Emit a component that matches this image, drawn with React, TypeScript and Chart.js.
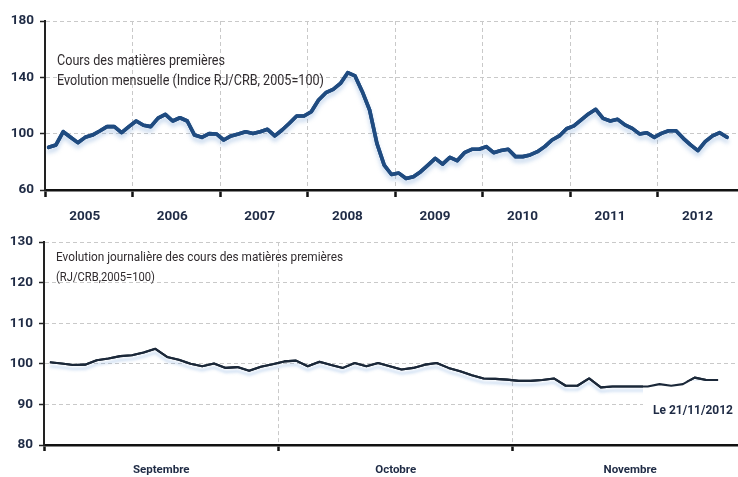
import React, { useEffect, useRef } from 'react';
import { Chart, registerables } from 'chart.js';

Chart.register(...registerables);

// ---------- data ----------
const YEAR_LABELS = ['2005', '2006', '2007', '2008', '2009', '2010', '2011', '2012'];

// RJ/CRB monthly index, Jan 2005 .. Oct 2012 (2005 = 100)
const MONTHLY_INDEX = [
  90.3, 92, 101.4, 97.5, 93.6, 97.4, 99, 101.9, 105, 105, 100.7, 105,
  109, 106, 105, 111, 113.7, 109, 111.3, 109, 99, 97.4, 100, 99.8,
  95.5, 98.4, 99.8, 101.4, 100.2, 101.4, 103.1, 98.4, 102.6, 107.4, 112.5, 112.5,
  115.6, 123.9, 129.1, 131.5, 135.7, 143.3, 141, 129.8, 116.8, 93.1, 77.7, 71,
  72, 68.2, 69.4, 73, 77.7, 82.5, 78.4, 83.2, 80.8, 86.5, 88.9, 88.9,
  90.8, 86.5, 88, 88.9, 83.7, 83.7, 84.9, 87.2, 90.8, 95.5, 98.4, 103.5,
  105.5, 109.8, 114, 117.3, 110.9, 109, 110.2, 106.2, 103.8, 99.8, 100.7, 97.4,
  100.2, 102.1, 102.1, 96.7, 92, 88, 94.3, 98.4, 100.7, 97.4,
];

const MONTH_LABELS = ['Septembre', 'Octobre', 'Novembre'];

// daily index, Sept 2012 .. 21/11/2012
const DAILY_INDEX = [
  100.4, 100.1, 99.7, 99.8, 100.9, 101.3, 101.9, 102.1, 102.8, 103.7,
  101.7, 101, 100, 99.4, 100.1, 99, 99.2, 98.3, 99.3, 99.9,
  100.6, 100.8, 99.4, 100.5, 99.7, 99, 100.2, 99.4, 100.2, 99.4,
  98.6, 99, 99.8, 100.2, 99, 98.2, 97.2, 96.4, 96.3,
  96.1, 95.8, 95.8, 96, 96.4, 94.6, 94.6, 96.4, 94.2, 94.4, 94.4,
  94.4, 94.4, 95, 94.6, 95, 96.6, 96, 96,
];

const TOP_Y_TICKS = [60, 100, 140, 180];
const BOTTOM_Y_TICKS = [80, 90, 100, 110, 120, 130];

const TOP_TITLE = ['Cours des matières premières', 'Evolution mensuelle (Indice RJ/CRB, 2005=100)'];
const BOTTOM_TITLE = ['Evolution journalière des cours des matières premières', '(RJ/CRB,2005=100)'];
const DATE_NOTE = 'Le 21/11/2012';

// ---------- styling ----------
const FONT = 'Roboto, "Liberation Sans", Arial, sans-serif';
const TICK_COLOR = '#1f2b45';
const GRID_COLOR = '#c9c9c9';
const TEXT_COLOR = '#302b2e';

// draws white note box (under the line), then the line with a soft shadow
const shadowPlugin = {
  id: 'lineShadow',
  beforeDatasetsDraw(chart: any, _args: any, opts: any) {
    const ctx = chart.ctx;
    const box = opts.box;
    if (box) {
      ctx.save();
      ctx.fillStyle = '#ffffff';
      ctx.fillRect(box.x, box.y, box.w, box.h);
      ctx.restore();
    }
    ctx.save();
    if (box) {
      ctx.beginPath();
      ctx.rect(0, 0, box.x, chart.height);
      ctx.rect(box.x, 0, chart.width - box.x, box.y);
      ctx.clip();
    }
    ctx.shadowColor = opts.color || 'rgba(100,150,210,0.35)';
    ctx.shadowOffsetX = 0;
    ctx.shadowOffsetY = opts.offsetY ?? 4;
    ctx.shadowBlur = opts.blur ?? 3;
  },
  afterDatasetsDraw(chart: any) {
    const ctx = chart.ctx;
    ctx.restore();
    // redraw the lines without shadow and without the clip
    chart.data.datasets.forEach((_d: any, i: number) => {
      const meta = chart.getDatasetMeta(i);
      if (meta && meta.dataset) {
        ctx.save();
        const a = chart.chartArea;
        ctx.beginPath();
        ctx.rect(a.left, a.top - 4, a.right - a.left, a.bottom - a.top + 8);
        ctx.clip();
        meta.dataset.draw(ctx, a);
        ctx.restore();
      }
    });
  },
};

const notesPlugin = {
  id: 'notes',
  afterDraw(chart: any, _args: any, opts: any) {
    const ctx = chart.ctx;
    (opts.lines || []).forEach((l: any) => {
      ctx.save();
      ctx.font = l.font;
      ctx.fillStyle = l.color;
      ctx.textAlign = 'left';
      ctx.textBaseline = 'middle';
      const w = ctx.measureText(l.text).width;
      ctx.translate(l.x, l.y);
      if (l.width && w > 0) ctx.scale(l.width / w, 1);
      ctx.fillText(l.text, 0, 0);
      ctx.restore();
    });
  },
};

function makeTop(canvas: HTMLCanvasElement) {
  return new Chart(canvas, {
    type: 'line',
    data: {
      datasets: [
        {
          data: MONTHLY_INDEX.map((v, i) => ({ x: i + 0.5, y: v })),
          borderColor: '#1f4b80',
          borderWidth: 3.6,
          pointRadius: 0,
          tension: 0,
          fill: false,
          borderJoinStyle: 'round',
          borderCapStyle: 'round',
        },
      ],
    },
    plugins: [shadowPlugin, notesPlugin],
    options: {
      animation: false,
      responsive: false,
      maintainAspectRatio: false,
      events: [],
      layout: { padding: { top: 21, left: 0, right: 0, bottom: 0 } },
      plugins: {
        legend: { display: false },
        tooltip: { enabled: false },
        lineShadow: { color: 'rgba(95,145,205,0.38)', offsetY: 4, blur: 4 },
        notes: {
          lines: [
            { text: TOP_TITLE[0], x: 57, y: 61, width: 168, font: `14px ${FONT}`, color: TEXT_COLOR },
            { text: TOP_TITLE[1], x: 57, y: 81, width: 267, font: `14px ${FONT}`, color: TEXT_COLOR },
          ],
        },
      } as any,
      scales: {
        x: {
          type: 'linear',
          min: 0,
          max: 95,
          afterBuildTicks: (s: any) => {
            const t = [];
            for (let v = 0; v <= 90; v += 6) t.push({ value: v });
            s.ticks = t;
          },
          afterFit: (s: any) => {
            s.height = 38;
          },
          ticks: {
            autoSkip: false,
            maxRotation: 0,
            padding: 12,
            labelOffset: -4,
            color: TICK_COLOR,
            font: { family: FONT, size: 13.5, weight: 'bold' },
            callback: (v: any) => (v % 12 === 6 ? YEAR_LABELS[(v - 6) / 12] : ''),
          },
          grid: {
            color: (c: any) => (c.tick && c.tick.value % 12 === 0 && c.tick.value > 0 ? GRID_COLOR : 'rgba(0,0,0,0)'),
            tickColor: (c: any) => (c.tick && c.tick.value % 12 === 0 ? '#111' : 'rgba(0,0,0,0)'),
            tickLength: 7,
            tickWidth: 2.5,
            lineWidth: 1,
          },
          border: { color: '#111', width: 2.6, dash: [4, 3] },
        },
        y: {
          min: 60,
          max: 180,
          afterBuildTicks: (s: any) => {
            s.ticks = TOP_Y_TICKS.map((v) => ({ value: v }));
          },
          afterFit: (s: any) => {
            s.width = 45;
          },
          ticks: {
            padding: 6,
            color: TICK_COLOR,
            font: { family: FONT, size: 13.5, weight: 'bold' },
          },
          grid: {
            color: (c: any) => (c.tick && c.tick.value === 60 ? 'rgba(0,0,0,0)' : GRID_COLOR),
            tickColor: '#222',
            tickLength: 5,
            tickWidth: 1.5,
            lineWidth: 1,
          },
          border: { color: '#222', width: 2, dash: [4, 3] },
        },
      } as any,
    },
  } as any);
}

function makeBottom(canvas: HTMLCanvasElement) {
  return new Chart(canvas, {
    type: 'line',
    data: {
      datasets: [
        {
          data: DAILY_INDEX.map((v, i) => ({ x: i + 0.5, y: v })),
          borderColor: '#1b2839',
          borderWidth: 2.1,
          pointRadius: 0,
          tension: 0,
          fill: false,
          borderJoinStyle: 'round',
        },
      ],
    },
    plugins: [shadowPlugin, notesPlugin],
    options: {
      animation: false,
      responsive: false,
      maintainAspectRatio: false,
      events: [],
      layout: { padding: { top: 9, left: 0, right: 0, bottom: 0 } },
      plugins: {
        legend: { display: false },
        tooltip: { enabled: false },
        lineShadow: {
          color: 'rgba(120,165,220,0.42)',
          offsetY: 4,
          blur: 3,
          box: { x: 643, y: 153, w: 95, h: 45 },
        },
        notes: {
          lines: [
            { text: BOTTOM_TITLE[0], x: 56, y: 30, width: 287, font: `13.5px ${FONT}`, color: TEXT_COLOR },
            { text: BOTTOM_TITLE[1], x: 56, y: 50, width: 99, font: `13.5px ${FONT}`, color: TEXT_COLOR },
            { text: DATE_NOTE, x: 653, y: 183, width: 80, font: `bold 13.5px ${FONT}`, color: TICK_COLOR },
          ],
        },
      } as any,
      scales: {
        x: {
          type: 'linear',
          min: 0,
          max: 59.2,
          afterBuildTicks: (s: any) => {
            const t = [];
            for (let v = 0; v <= 50; v += 10) t.push({ value: v });
            s.ticks = t;
          },
          afterFit: (s: any) => {
            s.height = 32;
          },
          ticks: {
            autoSkip: false,
            maxRotation: 0,
            padding: 12,
            color: TICK_COLOR,
            font: { family: FONT, size: 11.5, weight: 'bold' },
            callback: (v: any) => (v % 20 === 10 ? MONTH_LABELS[(v - 10) / 20] : ''),
          },
          grid: {
            color: (c: any) => (c.tick && c.tick.value % 20 === 0 && c.tick.value > 0 ? GRID_COLOR : 'rgba(0,0,0,0)'),
            tickColor: (c: any) => (c.tick && c.tick.value % 20 === 0 ? '#111' : 'rgba(0,0,0,0)'),
            tickLength: 6,
            tickWidth: 2.5,
            lineWidth: 1,
          },
          border: { color: '#111', width: 2.6, dash: [4, 3] },
        },
        y: {
          min: 80,
          max: 130,
          afterBuildTicks: (s: any) => {
            s.ticks = BOTTOM_Y_TICKS.map((v) => ({ value: v }));
          },
          afterFit: (s: any) => {
            s.width = 44;
          },
          ticks: {
            padding: 6,
            color: TICK_COLOR,
            font: { family: FONT, size: 13.5, weight: 'bold' },
          },
          grid: {
            color: (c: any) => (c.tick && c.tick.value === 80 ? 'rgba(0,0,0,0)' : GRID_COLOR),
            tickColor: '#222',
            tickLength: 5,
            tickWidth: 1.5,
            lineWidth: 1,
          },
          border: { color: '#222', width: 2, dash: [4, 3] },
        },
      } as any,
    },
  } as any);
}

export default function App() {
  const topRef = useRef<HTMLCanvasElement | null>(null);
  const bottomRef = useRef<HTMLCanvasElement | null>(null);

  useEffect(() => {
    if (!topRef.current || !bottomRef.current) return;
    const a = makeTop(topRef.current);
    const b = makeBottom(bottomRef.current);
    return () => {
      a.destroy();
      b.destroy();
    };
  }, []);

  return (
    <div
      style={{
        position: 'fixed',
        left: 0,
        top: 0,
        width: 738,
        height: 477,
        background: '#ffffff',
        overflow: 'hidden',
      }}
    >
      <canvas
        ref={topRef}
        width={738}
        height={228}
        style={{ position: 'absolute', left: 0, top: 0, width: 738, height: 228 }}
      />
      <canvas
        ref={bottomRef}
        width={738}
        height={249}
        style={{ position: 'absolute', left: 0, top: 228, width: 738, height: 249 }}
      />
    </div>
  );
}
